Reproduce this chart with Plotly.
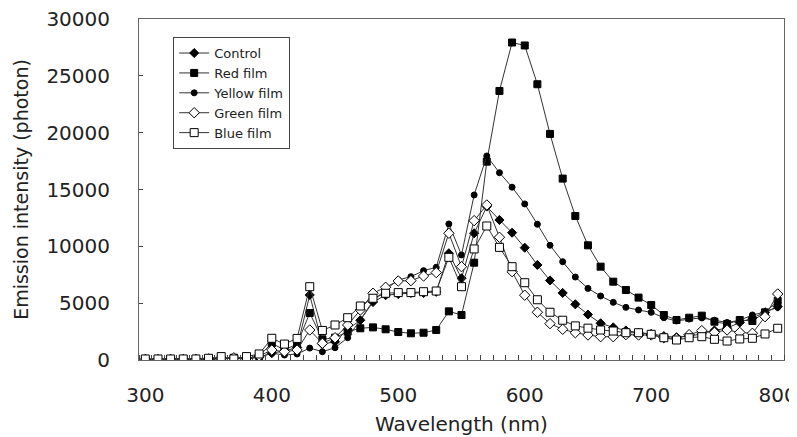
import plotly.graph_objects as go

wavelength = list(range(300, 801, 10))

control = [50, 50, 50, 50, 50, 80, 120, 150, 100, 250,
           600, 800, 1100, 5720, 1400, 1600, 2700, 3500, 5100, 5700,
           5800, 5900, 5900, 6000, 9390, 7190, 11150, 13500, 12320, 11200,
           9880, 8360, 7000, 5900, 4900, 4000, 3230, 2870, 2600, 2400,
           2300, 2100, 2000, 2100, 2300, 2600, 2800, 3300, 3700, 4200, 4700]

red_film = [50, 50, 50, 50, 50, 80, 120, 200, 150, 350,
            1470, 880, 1400, 4130, 1820, 1960, 2490, 2790, 2870, 2700,
            2460, 2350, 2400, 2640, 4280, 3960, 8560, 17450, 23670, 27930,
            27670, 24260, 19890, 15960, 12670, 10090, 8210, 6890, 6160, 5490,
            4840, 3960, 3520, 3720, 3900, 3370, 3170, 3520, 3430, 4190, 5190]

yellow_film = [50, 50, 50, 50, 50, 80, 100, 150, 100, 250,
               600, 440, 530, 1050, 730, 1080, 1960, 3520, 5200, 6200,
               7040, 7330, 7860, 8150, 11970, 9240, 14520, 17950, 16480, 15200,
               13730, 11940, 10090, 8650, 7300, 6300, 5630, 5070, 4630, 4400,
               4190, 3720, 3430, 3600, 3700, 3500, 3300, 3500, 3960, 4220, 4630]

green_film = [50, 50, 50, 50, 50, 100, 150, 200, 150, 350,
              880, 730, 880, 2640, 1470, 1960, 3080, 4400, 5870, 6400,
              6950, 6980, 7390, 7690, 11150, 8210, 12260, 13640, 10800, 7770,
              5700, 4200, 3200, 2700, 2400, 2200, 2050, 2050, 2230, 2200,
              2200, 1960, 1900, 2230, 2580, 2430, 2640, 2430, 2350, 3810, 5810]

blue_film = [90, 90, 90, 90, 90, 150, 300, 90, 300, 530,
             1910, 1400, 1900, 6450, 2600, 3080, 3720, 4750, 5430, 5870,
             5930, 5930, 6010, 6070, 9030, 6450, 9770, 11790, 9910, 8210,
             6800, 5300, 4200, 3500, 3000, 2800, 2640, 2550, 2400, 2400,
             2260, 1960, 1760, 1960, 2050, 1820, 1670, 1850, 1910, 2290, 2790]

series = [
    ("Control", control, "diamond", "#000000", 7),
    ("Red film", red_film, "square", "#000000", 7),
    ("Yellow film", yellow_film, "circle", "#000000", 6),
    ("Green film", green_film, "diamond", "#ffffff", 8),
    ("Blue film", blue_film, "square", "#ffffff", 8),
]

fig = go.Figure()
for name, vals, sym, fill, size in series:
    fig.add_trace(go.Scatter(
        x=wavelength, y=vals, name=name, mode="lines+markers",
        line=dict(color="#333333", width=1),
        marker=dict(symbol=sym, color=fill, size=size,
                    line=dict(color="#000000", width=1)),
    ))

fig.update_layout(
    width=797, height=437,
    margin=dict(l=131, r=21, t=11, b=85, autoexpand=False),
    paper_bgcolor="white", plot_bgcolor="white",
    font=dict(family="DejaVu Sans", color="#222222"),
    showlegend=True,
    legend=dict(
        x=0.053, y=0.947, xanchor="left", yanchor="top",
        bordercolor="#444444", borderwidth=1, bgcolor="white",
        font=dict(size=13, family="DejaVu Sans", color="#222222"),
        itemwidth=30, tracegroupgap=0,
    ),
    xaxis=dict(
        range=[295, 805], tickmode="array",
        tickvals=[300, 400, 500, 600, 700, 800],
        ticktext=["300", "400", "500", "600", "700", "800"],
        ticks="", showgrid=False, zeroline=False, automargin=False,
        ticklabeloverflow="allow",
        showline=True, linecolor="#666666", linewidth=1, mirror=True,
        tickfont=dict(size=20), ticklabelstandoff=17,
        minor=dict(ticks="inside", tick0=305, dtick=10, ticklen=5,
                   tickcolor="#444444", showgrid=False),
        title=dict(text="Wavelength (nm)", font=dict(size=20), standoff=10),
    ),
    yaxis=dict(
        range=[0, 30000], tickmode="array",
        tickvals=[0, 5000, 10000, 15000, 20000, 25000, 30000],
        ticktext=["0", "5000", "10000", "15000", "20000", "25000", "30000"],
        ticks="inside", ticklen=4, tickcolor="#444444",
        showgrid=False, zeroline=False, automargin=False,
        ticklabeloverflow="allow",
        showline=True, linecolor="#666666", linewidth=1, mirror=True,
        tickfont=dict(size=20), ticklabelstandoff=24,
        title=dict(text="Emission intensity (photon)", font=dict(size=19), standoff=12),
    ),
)

fig.write_html("out.html")
